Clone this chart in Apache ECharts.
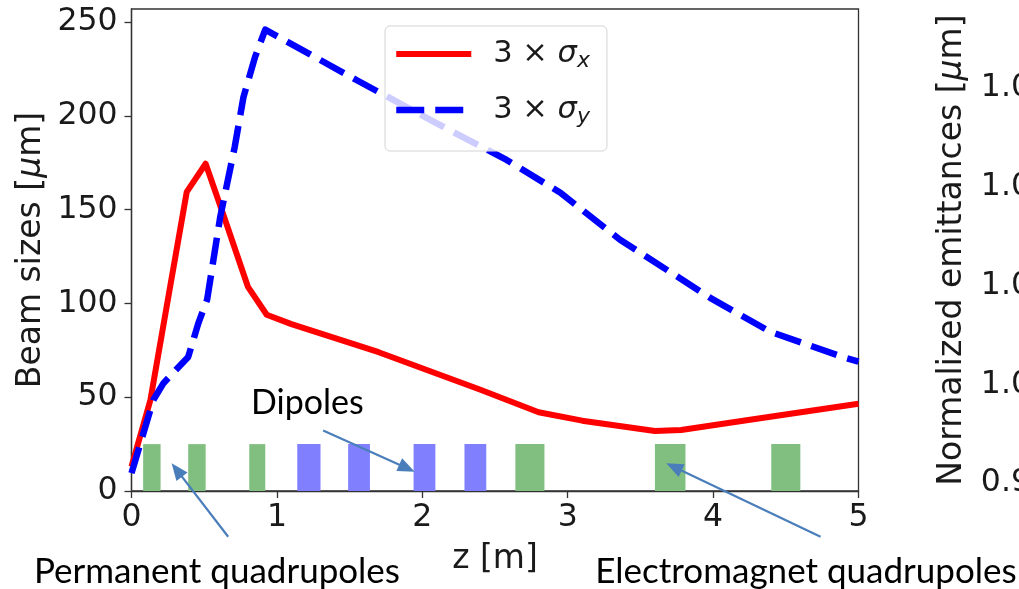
<!DOCTYPE html>
<html>
<head>
<meta charset="utf-8">
<script src="https://cdn.jsdelivr.net/npm/echarts@6/dist/echarts.min.js"></script>
<style>
  html, body { margin: 0; padding: 0; background: #ffffff; }
  #main { width: 1019px; height: 589px; }
</style>
</head>
<body>
<div id="main"></div>
<script>
// Beam envelope along the transport line (3 sigma, in micrometres)
const zSigmaX = [0, 0.13, 0.25, 0.38, 0.51, 0.62, 0.80, 0.93, 1.10, 1.70, 2.40, 2.80, 3.10, 3.60, 3.78, 4.30, 5.00];
const sigmaX  = [13, 48.5, 102, 159.5, 174.5, 150, 109, 94, 89, 74, 54, 42, 37.5, 32, 32.5, 38.5, 46.5];

const zSigmaY = [0, 0.15, 0.22, 0.39, 0.46, 0.52, 0.61, 0.71, 0.77, 0.85, 0.92, 1.55, 2.10, 2.58, 2.95, 3.36, 3.98, 4.39, 4.89, 5.00];
const sigmaY  = [9.5, 48.5, 57.5, 71.5, 89.5, 102, 146, 183.5, 210, 231.5, 246, 219, 196, 176.5, 159, 134, 103, 85, 71.5, 69];

// Magnet positions along z [m]: start and end of each element
const permanentQuads = [[0.08, 0.20], [0.39, 0.51], [0.81, 0.92]];
const dipoles        = [[1.14, 1.30], [1.49, 1.64], [1.94, 2.09], [2.29, 2.44]];
const electroQuads   = [[2.64, 2.84], [3.60, 3.81], [4.40, 4.60]];
const magnetHeight = 25;

// Axis ticks
const zTicks = [0, 1, 2, 3, 4, 5];
const sizeTicks = [0, 50, 100, 150, 200, 250];
const emittanceTicks = [0.98, 1.00, 1.02, 1.04, 1.06];

const FONT = 'DejaVu Sans';
const NOTE_FONT = 'Lato';
const INK = '#1a1a1a';
const SPINE = '#333333';
const ARROW = '#4a7ebb';
const TICK_SIZE = 31.5;
const NAME_SIZE = 33;

function magnetItem(params, api) {
  const topLeft = api.coord([api.value(0), api.value(2)]);
  const bottomRight = api.coord([api.value(1), 0]);
  return {
    type: 'rect',
    shape: {
      x: topLeft[0], y: topLeft[1],
      width: bottomRight[0] - topLeft[0],
      height: bottomRight[1] - topLeft[1]
    },
    style: { fill: api.visual('color') }
  };
}

function magnetSeries(name, spans, color) {
  return {
    type: 'custom', name: name, xAxisIndex: 0, yAxisIndex: 0,
    renderItem: magnetItem,
    itemStyle: { color: color },
    encode: { x: [0, 1], y: 2 },
    data: spans.map(s => [s[0], s[1], magnetHeight]),
    z: 1, silent: true
  };
}

const legendText = {
  sx: '3 × {i|σ}{sub|x}',
  sy: '3 × {i|σ}{sub|y}'
};

const tickStyle = { show: true, inside: false, length: 7, lineStyle: { color: SPINE, width: 1.3 } };
const lineAxis = { show: true, lineStyle: { color: SPINE, width: 1.3 } };

const chart = echarts.init(document.getElementById('main'), null, { renderer: 'canvas' });

const option = {
  animation: false,
  backgroundColor: '#ffffff',
  grid: [
    { left: 131.5, right: 160.5, top: 9, bottom: 98, show: true, borderColor: SPINE, borderWidth: 1.3,
      backgroundColor: 'transparent', containLabel: false, outerBoundsMode: 'none' },
    { left: 1067, width: 400, top: 9, bottom: 98, show: false, containLabel: false, outerBoundsMode: 'none' }
  ],
  legend: {
    orient: 'vertical', left: 385, top: 26,
    padding: [10, 17, 23, 8],
    itemWidth: 75, itemHeight: 2, itemGap: 20,
    backgroundColor: 'rgba(255,255,255,0.8)',
    borderColor: '#d4d4d4', borderWidth: 1, borderRadius: 5,
    itemStyle: { opacity: 0 },
    data: [
      { name: 'sx', lineStyle: { color: '#ff0000', width: 6, type: 'solid', cap: 'butt' } },
      { name: 'sy', lineStyle: { color: '#0000ff', width: 6.5, type: [28, 11], cap: 'butt' } }
    ],
    formatter: name => legendText[name],
    selectedMode: false,
    textStyle: {
      fontFamily: FONT, fontSize: 30.5, color: INK, lineHeight: 34,
      padding: [0, 0, 0, 17],
      rich: {
        i: { fontFamily: FONT, fontSize: 30.5, fontStyle: 'italic', color: INK, lineHeight: 34 },
        sub: { fontFamily: FONT, fontSize: 22, fontStyle: 'italic', color: INK, lineHeight: 34, padding: [14, 0, 0, 0] }
      }
    }
  },
  xAxis: [
    {
      type: 'value', gridIndex: 0, min: 0, max: 5, interval: 1,
      name: 'z [m]', nameLocation: 'middle', nameGap: 52, nameMoveOverlap: false,
      nameTextStyle: { fontFamily: FONT, fontSize: NAME_SIZE, color: INK },
      axisLine: lineAxis, axisTick: tickStyle, splitLine: { show: false },
      axisLabel: { fontFamily: FONT, fontSize: TICK_SIZE, color: INK, margin: 11, customValues: zTicks }
    },
    { type: 'value', gridIndex: 1, min: 0, max: 5, show: false }
  ],
  yAxis: [
    {
      type: 'value', gridIndex: 0, min: 0, max: 257,
      name: 'Beam sizes [{mu|μ}m]', nameLocation: 'middle', nameGap: 84, nameRotate: 90, nameMoveOverlap: false,
      nameTextStyle: {
        fontFamily: FONT, fontSize: NAME_SIZE, color: INK,
        rich: { mu: { fontFamily: FONT, fontSize: NAME_SIZE, fontStyle: 'italic', color: INK } }
      },
      axisLine: lineAxis,
      axisTick: Object.assign({}, tickStyle, { customValues: sizeTicks }),
      splitLine: { show: false },
      axisLabel: { fontFamily: FONT, fontSize: TICK_SIZE, color: INK, margin: 14, customValues: sizeTicks }
    },
    {
      type: 'value', gridIndex: 1, min: 0.9784, max: 1.076,
      name: 'Normalized emittances [{mu|μ}m]', nameLocation: 'middle', nameGap: 98, nameRotate: 90, nameMoveOverlap: false,
      nameTextStyle: {
        fontFamily: FONT, fontSize: NAME_SIZE, color: INK,
        rich: { mu: { fontFamily: FONT, fontSize: NAME_SIZE, fontStyle: 'italic', color: INK } }
      },
      axisLine: lineAxis,
      axisTick: Object.assign({}, tickStyle, { customValues: emittanceTicks }),
      splitLine: { show: false },
      axisLabel: {
        fontFamily: FONT, fontSize: TICK_SIZE, color: INK, margin: 16, customValues: emittanceTicks,
        formatter: v => v.toFixed(2)
      }
    }
  ],
  series: [
    magnetSeries('Permanent quadrupoles', permanentQuads, '#80bf80'),
    magnetSeries('Dipoles', dipoles, '#8080ff'),
    magnetSeries('Electromagnet quadrupoles', electroQuads, '#80bf80'),
    {
      name: 'sx', type: 'line', xAxisIndex: 0, yAxisIndex: 0,
      data: zSigmaX.map((z, i) => [z, sigmaX[i]]),
      symbol: 'none', smooth: false, z: 3,
      lineStyle: { color: '#ff0000', width: 6, join: 'round', cap: 'butt' },
      itemStyle: { color: '#ff0000' }
    },
    {
      name: 'sy', type: 'line', xAxisIndex: 0, yAxisIndex: 0,
      data: zSigmaY.map((z, i) => [z, sigmaY[i]]),
      symbol: 'none', smooth: false, z: 3,
      lineStyle: { color: '#0000ff', width: 6.5, type: [27, 11], cap: 'butt', join: 'round' },
      itemStyle: { color: '#0000ff' }
    }
  ]
};

chart.setOption(option);

// Callout arrows, given as (z, size) points: [tail, head]
const callouts = [
  { tail: [1.318, 32.2], head: [1.948, 10.3] },
  { tail: [0.665, -24.4], head: [0.276, 14.8] },
  { tail: [4.739, -24.4], head: [3.678, 14.8] }
];

function arrowGraphics(tail, head) {
  const p0 = chart.convertToPixel({ gridIndex: 0 }, tail);
  const p1 = chart.convertToPixel({ gridIndex: 0 }, head);
  const dx = p1[0] - p0[0], dy = p1[1] - p0[1];
  const len = Math.sqrt(dx * dx + dy * dy);
  const ux = dx / len, uy = dy / len;
  const headLen = 17, halfW = 7;
  const bx = p1[0] - ux * headLen, by = p1[1] - uy * headLen;
  return [
    { type: 'line', shape: { x1: p0[0], y1: p0[1], x2: bx + ux * 2, y2: by + uy * 2 },
      style: { stroke: ARROW, lineWidth: 2.2 }, z: 20, silent: true },
    { type: 'polygon',
      shape: { points: [[p1[0], p1[1]], [bx - uy * halfW, by + ux * halfW], [bx + uy * halfW, by - ux * halfW]] },
      style: { fill: ARROW }, z: 20, silent: true }
  ];
}

const graphics = [];
callouts.forEach(c => graphics.push(...arrowGraphics(c.tail, c.head)));

const dipoleLabelAt = chart.convertToPixel({ gridIndex: 0 }, [1.21, 47]);
graphics.push(
  { type: 'text', x: dipoleLabelAt[0], y: dipoleLabelAt[1], z: 20, silent: true,
    style: { text: 'Dipoles', fontFamily: NOTE_FONT, fontSize: 34, fill: '#000', align: 'center', verticalAlign: 'middle' } },
  { type: 'text', x: 217, y: 572, z: 20, silent: true,
    style: { text: 'Permanent quadrupoles', fontFamily: NOTE_FONT, fontSize: 35, fill: '#000', align: 'center', verticalAlign: 'middle' } },
  { type: 'text', x: 806, y: 572, z: 20, silent: true,
    style: { text: 'Electromagnet quadrupoles', fontFamily: NOTE_FONT, fontSize: 35, fill: '#000', align: 'center', verticalAlign: 'middle' } }
);

chart.setOption({ graphic: graphics });
</script>
</body>
</html>
